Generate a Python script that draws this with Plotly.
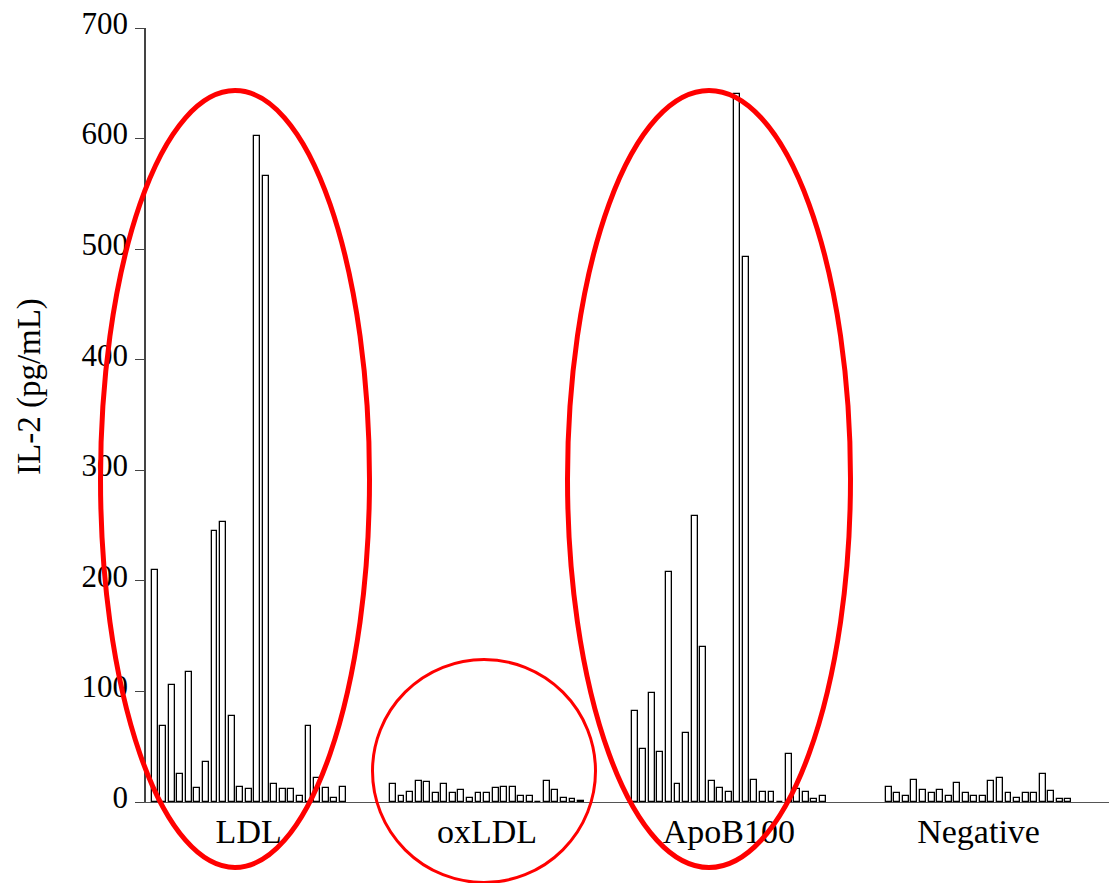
import plotly.graph_objects as go

groups = ["LDL", "oxLDL", "ApoB100", "Negative"]
ldl = [210, 69, 106, 25, 118, 13, 36, 245, 253, 78, 14, 12, 602, 566, 16, 12, 12, 5, 69, 22, 13, 4, 14]
oxldl = [16, 5, 9, 19, 18, 8, 16, 8, 11, 4, 8, 8, 13, 14, 14, 5, 5, 0, 19, 11, 4, 3, 1]
apob100 = [82, 48, 99, 45, 208, 16, 62, 259, 140, 19, 13, 9, 640, 493, 20, 9, 9, 0, 43, 12, 9, 3, 5]
negative = [14, 8, 5, 20, 11, 8, 11, 5, 17, 8, 5, 5, 19, 22, 8, 4, 8, 8, 25, 10, 3, 3]
series = [ldl, oxldl, apob100, negative]

y_ticks = [0, 100, 200, 300, 400, 500, 600, 700]
y_title = "IL-2 (pg/mL)"

# layout: slot offset of each group along the x axis
group_offset = [0, 27.87, 56.14, 85.85]

W, H = 1109, 883
ML, MR, MT, MB = 146, 0, 28, 81
PW, PH = W - ML - MR, H - MT - MB

fig = go.Figure()
xs, ys = [], []
for off, vals in zip(group_offset, series):
    for i, v in enumerate(vals):
        xs.append(off + i)
        ys.append(v)
fig.add_trace(go.Bar(
    x=xs, y=ys, width=0.69,
    marker=dict(color="white", line=dict(color="black", width=1.3)),
    showlegend=False, hoverinfo="y",
))

tickvals = [off + (len(v) - 1) / 2 for off, v in zip(group_offset, series)]

serif = "Liberation Serif, Times New Roman, serif"


def px_x(p):
    return (p - ML) / PW


def px_y(p):
    return (H - MB - p) / PH


shapes = []
for (x0, y0, x1, y1, w) in [(100.5, 90.5, 369.5, 867.5, 5),
                            (372.5, 659.5, 595.5, 882.5, 3),
                            (567.5, 90.5, 850.5, 867.5, 5)]:
    shapes.append(dict(type="circle", xref="paper", yref="paper",
                       x0=px_x(x0), x1=px_x(x1), y0=px_y(y1), y1=px_y(y0),
                       line=dict(color="#ff0000", width=w), fillcolor="rgba(0,0,0,0)"))

fig.update_layout(
    width=W, height=H,
    margin=dict(l=ML, r=MR, t=MT, b=MB),
    paper_bgcolor="white", plot_bgcolor="white",
    bargap=0,
    shapes=shapes,
    font=dict(family=serif, color="black"),
    xaxis=dict(range=[-1.006, 111.6], showgrid=False, zeroline=False,
               showline=True, linecolor="#555555", linewidth=1.2,
               tickmode="array", tickvals=tickvals, ticktext=groups,
               ticks="", tickfont=dict(family=serif, size=34, color="black"),
               ticklabelstandoff=-1),
    yaxis=dict(range=[0, 700], showgrid=False, zeroline=False,
               showline=True, linecolor="#444444", linewidth=1.5,
               tickmode="array", tickvals=y_ticks,
               ticks="outside", ticklen=9, tickcolor="#444444", tickwidth=1.3,
               tickfont=dict(family=serif, size=31, color="black"),
               ticklabelshift=-5, ticklabelstandoff=1),
    annotations=[dict(text=y_title, textangle=-90, xref="paper", yref="paper",
                      x=px_x(29), y=px_y(387), xanchor="center", yanchor="middle",
                      showarrow=False, font=dict(family=serif, size=33, color="black"))],
)

fig.write_html("out.html")
